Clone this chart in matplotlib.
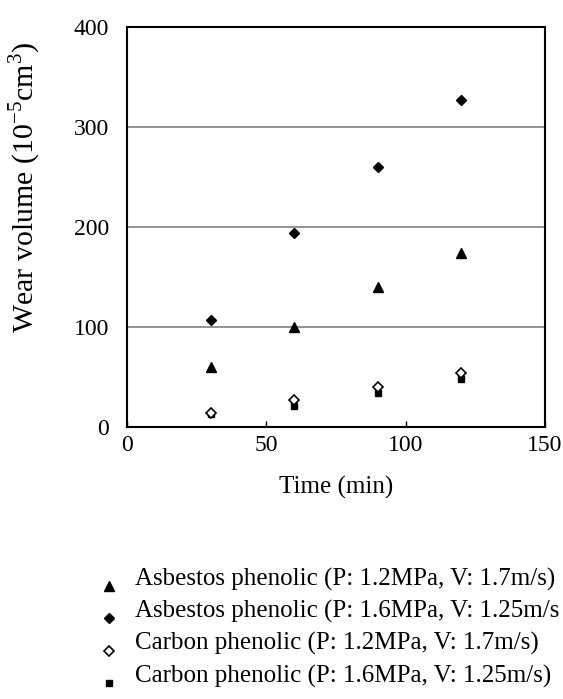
import matplotlib
matplotlib.use("Agg")
import matplotlib.pyplot as plt
from matplotlib.lines import Line2D
from matplotlib.legend_handler import HandlerLine2D

plt.rcParams['font.family'] = ['Liberation Serif', 'DejaVu Serif']
plt.rcParams['mathtext.fontset'] = 'custom'
plt.rcParams['mathtext.rm'] = 'Liberation Serif'

time = [30, 60, 90, 120]
asb_12 = [60, 100, 140, 174]
asb_16 = [107, 194, 260, 327]
carb_12 = [14, 27, 40, 54]
carb_16 = [13, 21, 34, 48]

labels = ["Asbestos phenolic (P: 1.2MPa, V: 1.7m/s)",
          "Asbestos phenolic (P: 1.6MPa, V: 1.25m/s",
          "Carbon phenolic (P: 1.2MPa, V: 1.7m/s)",
          "Carbon phenolic (P: 1.6MPa, V: 1.25m/s)"]
xticks = [0, 50, 100, 150]
yticks = [0, 100, 200, 300, 400]

TICK_FS = 17
LABEL_FS = 18


class ShiftedHandler(HandlerLine2D):
    """Place legend markers slightly below the text centre, as in the reference."""
    def create_artists(self, legend, orig_handle, xdescent, ydescent,
                       width, height, fontsize, trans):
        artists = super().create_artists(legend, orig_handle, xdescent, ydescent,
                                         width, height, fontsize, trans)
        for a in artists:
            a.set_ydata([y - 0.38 * fontsize for y in a.get_ydata()])
        return artists


fig = plt.figure(figsize=(5.63, 6.99), dpi=100)
ax = fig.add_axes([0.2256, 0.389, 0.742, 0.572])

for yv in yticks[1:-1]:
    ax.axhline(yv, color='#808080', lw=1.2, zorder=1)

ax.plot(time, asb_12, ls='none', marker='^', ms=7, color='black', zorder=3)
ax.plot(time, asb_16, ls='none', marker='D', ms=5, color='black', zorder=3)
ax.plot(time, carb_16, ls='none', marker='s', ms=5, color='black', zorder=3)
ax.plot(time, carb_12, ls='none', marker='D', ms=5, mfc='white', mec='black', mew=1.2, zorder=4)

ax.set_xlim(0, 150)
ax.set_ylim(0, 400)
ax.set_xticks(xticks)
ax.set_yticks(yticks)
ax.tick_params(axis='both', direction='in', labelsize=TICK_FS, length=4, width=1)
ax.tick_params(axis='x', pad=6)
ax.tick_params(axis='y', pad=13, length=0)
for s in ax.spines.values():
    s.set_linewidth(1.5)

ax.set_xlabel("Time (min)", fontsize=LABEL_FS, labelpad=14)
ax.set_ylabel(r"Wear volume (10$^{-5}$cm$^{3}$)", fontsize=21.5)
ax.yaxis.set_label_coords(-0.20, 0.60)

handles = [
    Line2D([], [], ls='none', marker='^', ms=7, color='black'),
    Line2D([], [], ls='none', marker='D', ms=5, color='black'),
    Line2D([], [], ls='none', marker='D', ms=5, mfc='white', mec='black', mew=1.2),
    Line2D([], [], ls='none', marker='s', ms=5, color='black'),
]
fig.legend(handles, labels, loc='upper left', bbox_to_anchor=(0.1545, 0.206),
           frameon=False, fontsize=LABEL_FS, handlelength=0.8, handletextpad=0.64,
           labelspacing=0.37, borderpad=0,
           handler_map={Line2D: ShiftedHandler()})

fig.savefig("out.png", dpi=100)
